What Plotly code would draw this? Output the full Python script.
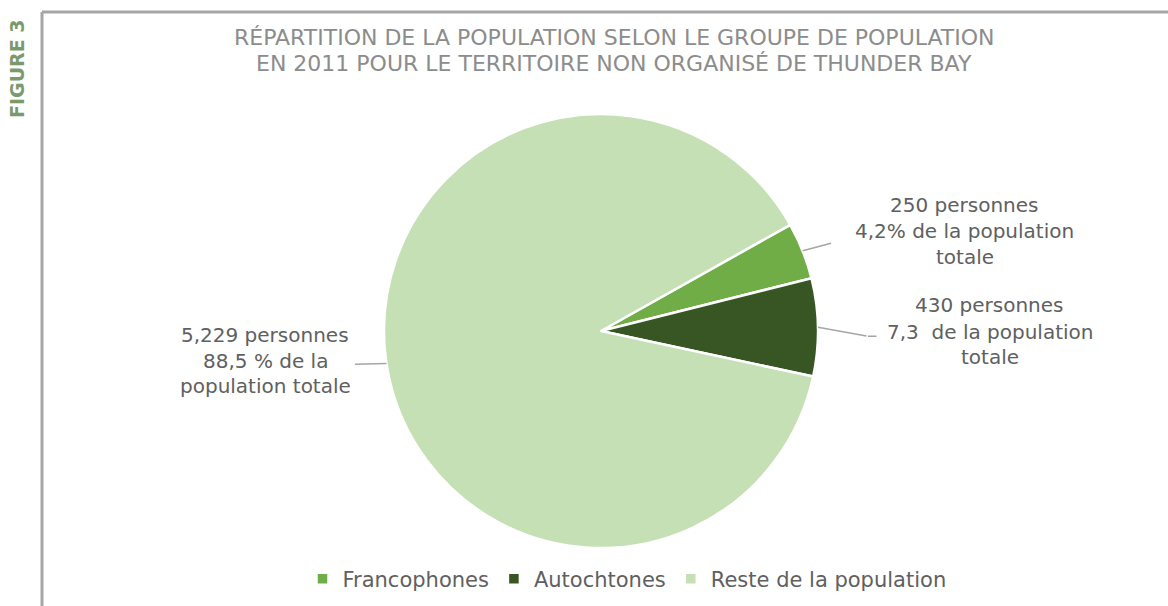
import math
import plotly.graph_objects as go

categories = ["Francophones", "Autochtones", "Reste de la population"]
values = [250, 430, 5229]
colors = ["#70AD47", "#375623", "#C5E0B4"]
label_lines = [
    ["250 personnes", "4,2% de la population", "totale"],
    ["430 personnes", "7,3  de la population", "totale"],
    ["5,229 personnes", "88,5 % de la", "population totale"],
]
title_lines = [
    "RÉPARTITION DE LA POPULATION SELON LE GROUPE DE POPULATION",
    "EN 2011 POUR LE TERRITOIRE NON ORGANISÉ DE THUNDER BAY",
]

W, H = 1168, 606
FONT = "DejaVu Sans"
TXT = "#606060"

rotation = 60.7
cx, cy, R = 601, 331, 217  # pixels from top-left

fig = go.Figure()
fig.add_trace(go.Pie(
    labels=categories, values=values, sort=False, direction="clockwise",
    rotation=rotation, textinfo="none", hoverinfo="label+value+percent",
    marker=dict(colors=colors, line=dict(color="white", width=2.5)),
    domain=dict(x=[(cx - R) / W, (cx + R) / W], y=[(H - cy - R) / H, (H - cy + R) / H]),
))

# label placement, leader lines computed from slice mid-angles
total = sum(values)
# (tail dx, tail dy, extra horizontal, text center dx, [line center dy...]) relative to the slice edge point
offsets = [
    (30, -8, 0, 162, [-46, -20, 6]),
    (50, 9, 10, 172, [-22, 5, 30]),
    (-33, 1, 0, -121, [-28, -2, 23]),
]
start = rotation
annotations = []
for i, v in enumerate(values):
    span = 360 * v / total
    mid = math.radians(start + span / 2)
    start += span
    px = cx + R * math.sin(mid)
    py = cy - R * math.cos(mid)
    ax, ay, hx, tx, tys = offsets[i]
    annotations.append(dict(
        x=px / W, y=1 - py / H, xref="paper", yref="paper",
        ax=ax, ay=ay, axref="pixel", ayref="pixel",
        showarrow=True, arrowhead=0, arrowwidth=1.5, arrowcolor="#A6A6A6",
        text="", standoff=0,
    ))
    if hx:
        annotations.append(dict(
            x=(px + ax) / W, y=1 - (py + ay) / H, xref="paper", yref="paper",
            ax=hx, ay=0, axref="pixel", ayref="pixel",
            showarrow=True, arrowhead=0, arrowwidth=1.5, arrowcolor="#A6A6A6",
            text="", standoff=0,
        ))
    for line, ty in zip(label_lines[i], tys):
        annotations.append(dict(
            x=(px + tx) / W, y=1 - (py + ty) / H, xref="paper", yref="paper",
            text=line, showarrow=False, align="center",
            xanchor="center", yanchor="middle",
            font=dict(family=FONT, size=20, color=TXT),
        ))

for t, yy in zip(title_lines, [37, 64]):
    annotations.append(dict(
        x=614 / W, y=1 - yy / H, xref="paper", yref="paper", yanchor="middle",
        text=t, showarrow=False, align="center",
        font=dict(family=FONT, size=22, color="#8C8C8C"),
    ))
annotations.append(dict(
    x=17 / W, y=1 - 69 / H, xref="paper", yref="paper", xanchor="center", yanchor="middle",
    text="<b>FIGURE 3</b>", showarrow=False, textangle=-90,
    font=dict(family=FONT, size=19, color="#7A9A6C"),
))

shapes = [
    dict(type="line", xref="paper", yref="paper", x0=42 / W, x1=1, y0=1 - 12 / H, y1=1 - 12 / H,
         line=dict(color="#A6A6A6", width=3)),
    dict(type="line", xref="paper", yref="paper", x0=42 / W, x1=42 / W, y0=0, y1=1 - 12 / H,
         line=dict(color="#A6A6A6", width=3)),
]

fig.update_layout(
    width=W, height=H, margin=dict(l=0, r=0, t=0, b=0, autoexpand=False),
    paper_bgcolor="white", plot_bgcolor="white",
    showlegend=True,
    legend=dict(orientation="h", x=627 / W, xanchor="center", y=1 - 579 / H, yanchor="middle",
                font=dict(family=FONT, size=21, color=TXT), traceorder="normal"),
    annotations=annotations, shapes=shapes,
)

fig.write_html("out.html", config={"displayModeBar": False},
               post_script="document.body.style.margin='0';")
